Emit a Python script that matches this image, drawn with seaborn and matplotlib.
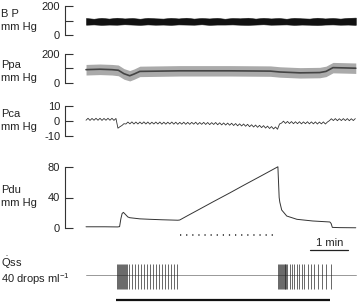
import numpy as np
import matplotlib
matplotlib.use("Agg")
import matplotlib.pyplot as plt
import seaborn as sns

# ── data (time in seconds from start of recording) ─────────────
BP_LOWER = [71, 73, 70, 72, 71, 74, 72, 70, 73, 71, 72, 70, 73, 72, 71, 74, 70, 72,
            72, 73, 71, 70, 72, 74, 71, 72, 73, 70, 72, 71, 69, 72, 73, 71, 72, 70]
BP_UPPER = [117, 112, 118, 113, 119, 114, 117, 112, 118, 115, 113, 118, 114, 119, 113, 117, 114, 118,
            112, 117, 115, 119, 113, 118, 114, 117, 112, 118, 115, 113, 119, 114, 117, 113, 118, 120]

PPA_T = [0, 22, 41, 51, 60, 69, 76, 85, 148, 227, 291, 306, 338, 369, 379, 390, 409, 426]
PPA_MID = [92, 95, 92, 88, 64, 50, 62, 80, 84, 84, 82, 76, 70, 72, 80, 106, 104, 102]
PPA_UPPER = [128, 131, 128, 124, 99, 86, 97, 116, 120, 120, 118, 112, 106, 108, 116, 142, 140, 138]
PPA_LOWER = [55, 58, 55, 50, 26, 14, 26, 44, 48, 48, 46, 40, 34, 36, 44, 70, 68, 66]

# Pca: one trough and one peak per beat
PCA_TROUGH = [0.5, 0.4, 0.5, 0.5, 0.4, 0.5, 0.5, 0.4,
              -4.8, -3.0,
              -2.0, -1.9, -2.0, -2.0, -1.9, -2.0, -2.1, -2.0, -2.0, -2.1,
              -2.1, -2.0, -2.1, -2.2, -2.1, -2.2, -2.2, -2.1, -2.3, -2.2,
              -2.3, -2.4, -2.3, -2.5, -2.6, -2.7, -2.8, -3.0, -3.2, -3.3,
              -3.5, -3.8, -4.0, -4.2, -4.4, -4.7, -5.0, -5.3, -5.5,
              -1.4, -1.6, -1.7, -1.8, -1.8, -1.9, -1.8, -1.9, -1.9, -2.0, -1.9, -2.0,
              0.2, 0.3, 0.2, 0.3, 0.3, 0.2, 0.3]
PCA_PEAK = [1.8, 1.7, 1.8, 1.8, 1.7, 1.8, 1.8, 1.7,
            -3.8, -1.8,
            -0.7, -0.6, -0.7, -0.7, -0.6, -0.7, -0.8, -0.7, -0.7, -0.8,
            -0.8, -0.7, -0.8, -0.9, -0.8, -0.9, -0.9, -0.8, -1.0, -0.9,
            -1.0, -1.1, -1.0, -1.2, -1.3, -1.4, -1.5, -1.7, -1.9, -2.0,
            -2.2, -2.5, -2.7, -2.9, -3.1, -3.4, -3.7, -4.0, -2.0,
            -0.1, -0.3, -0.4, -0.5, -0.5, -0.6, -0.5, -0.6, -0.6, -0.7, -0.6, -0.7,
            1.5, 1.6, 1.5, 1.6, 1.6, 1.5, 1.6]

PDU_T = [0, 30, 50, 53, 55, 57, 59, 62, 66, 69, 85, 101, 120, 145, 148, 160, 180, 201,
         227, 250, 278, 303, 305, 306, 309, 317, 333, 358, 385, 387, 389, 400, 426]
PDU_V = [1.6, 1.6, 1.4, 1.8, 12, 19, 20.5, 18, 14.5, 13.5, 12, 11.4, 10.8, 10.2, 10.5, 16, 25, 34.5,
         46, 56.5, 69, 80.3, 40, 34, 23.6, 15.7, 11.4, 9.2, 7.9, 6, 0.8, 0.5, 0.3]

QSS_DROPS_1 = [49, 50.5, 52, 53.5, 55, 56.5, 58, 59.5, 61, 62.5, 64,
               68, 73, 78, 82, 87, 92, 97, 101, 106, 111, 116, 120, 125, 130, 134, 139, 144]
QSS_DROPS_2 = [303, 304.5, 306, 307.5, 309, 310.5, 312, 313.5, 315, 316.5, 318,
               322, 326, 329, 333, 337, 341, 345, 350, 355, 360, 366, 372, 379, 387]

STIM_START, STIM_END = 148, 302      # dotted line
INFUSION_START, INFUSION_END = 47, 385  # bottom bar
T_END = 426

# ── figure ─────────────────────────────────────────────────────
sns.set_theme(style="white")
plt.rcParams["font.family"] = ["Liberation Sans", "DejaVu Sans"]
plt.rcParams["mathtext.fontset"] = "custom"
plt.rcParams["mathtext.rm"] = "Liberation Sans"
plt.rcParams["axes.unicode_minus"] = False

W, H = 360, 302
fig = plt.figure(figsize=(W / 100, H / 100), dpi=100)
XL = (-33.2, 429.5)


def add_panel(top, bottom):
    ax = fig.add_axes([65 / W, 1 - bottom / H, (358 - 65) / W, (bottom - top) / H])
    ax.set_facecolor("none")
    ax.set_xlim(*XL)
    return ax


def style_panel(ax, lo, hi, labels):
    ax.set_ylim(lo, hi)
    ax.set_yticks([lo, (lo + hi) / 2, hi])
    ax.set_yticklabels(labels, fontsize=8, color="#222")
    ax.set_xticks([])
    for s in ["top", "right", "bottom"]:
        ax.spines[s].set_visible(False)
    ax.spines["left"].set_color("#333")
    ax.spines["left"].set_linewidth(0.8)
    ax.tick_params(axis="y", direction="in", length=5.8, width=0.8,
                   color="#333", pad=3.5, left=True)
    ax.set_xlabel("")
    ax.set_ylabel("")


# BP
ax = add_panel(6, 35)
bp_t = np.linspace(0, T_END, len(BP_UPPER))
ax.fill_between(bp_t, BP_LOWER, BP_UPPER, color="#111", lw=0.4, edgecolor="#111")
style_panel(ax, 0, 200, ["0", "", "200"])

# Ppa
ax = add_panel(54, 83)
ax.fill_between(PPA_T, PPA_LOWER, PPA_UPPER, color="#aaaaaa", lw=0)
sns.lineplot(x=PPA_T, y=PPA_MID, ax=ax, color="#444", lw=1.2,
             estimator=None, sort=False, legend=False)
style_panel(ax, 0, 200, ["0", "", "200"])

# Pca
ax = add_panel(106, 136)
pca_v = np.column_stack([PCA_TROUGH, PCA_PEAK]).ravel()
pca_t = np.arange(len(pca_v)) * 3.15
sns.lineplot(x=pca_t, y=pca_v, ax=ax, color="#333", lw=0.6,
             estimator=None, sort=False, legend=False)
style_panel(ax, -10, 10, ["-10", "0", "10"])

# Pdu
ax = add_panel(167, 228)
sns.lineplot(x=PDU_T, y=PDU_V, ax=ax, color="#333", lw=0.7,
             estimator=None, sort=False, legend=False)
for l in ax.lines:
    l.set_clip_on(False)
style_panel(ax, 0, 80, ["0", "40", "80"])

# bottom strip: stimulation dots, time bar, drop counter, infusion bar
ax = add_panel(230, 302)
ax.set_ylim(302, 230)
ax.axis("off")
ax.plot([STIM_START, STIM_END], [235, 235], color="#222", lw=1.1,
        linestyle=(0, (0.8, 3.2)))
ax.plot([354, 354 + 60], [250, 250], color="#222", lw=0.9)
ax.text(384, 248.5, "1 min", ha="center", va="bottom", fontsize=8, color="#222")
ax.plot([0, T_END], [275, 275], color="#888", lw=0.6)
ax.vlines(QSS_DROPS_1 + QSS_DROPS_2, 264, 289, color="#222", lw=0.6, alpha=0.8)
ax.plot([INFUSION_START, INFUSION_END], [300, 300], color="#111", lw=1.6,
        solid_capstyle="butt")

# channel labels
def label(txt, y):
    fig.text(1 / W, 1 - y / H, txt, ha="left", va="center", fontsize=8, color="#222")

label("B P", 14)
label("mm Hg", 27)
label("Ppa", 65)
label("mm Hg", 78)
label("Pca", 114)
label("mm Hg", 127)
label("Pdu", 190)
label("mm Hg", 203)
label(r"$\dot{\mathrm{Q}}$ss", 263)
label(r"40 drops ml$^{\mathrm{-1}}$", 279)

fig.savefig("out.png", dpi=100)
